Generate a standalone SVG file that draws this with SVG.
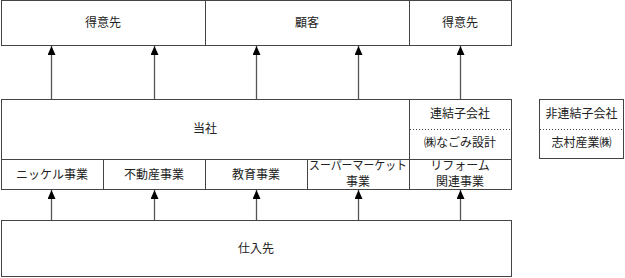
<svg xmlns="http://www.w3.org/2000/svg" width="625" height="278" viewBox="0 0 625 278">
<defs>
<style>
.n rect { fill: #fff; stroke: #444; stroke-width: 1; }
line.dot { stroke: #444; stroke-width: 1; stroke-dasharray: 1 2; }
text { font-family: "Liberation Serif", "Noto Sans CJK JP", serif; font-size: 12px; fill: #222; text-anchor: middle; dominant-baseline: central; }
.conn line { stroke: #555; stroke-width: 1.3; marker-end: url(#ah); }
</style>
<marker id="ah" viewBox="0 0 9 8" refX="9" refY="4" markerWidth="9" markerHeight="8" markerUnits="userSpaceOnUse" orient="auto">
<path d="M0,0 L9,4 L0,8 Z" fill="#000"/>
</marker>
</defs>
<rect width="625" height="278" fill="#fff"/>

<g class="n" id="tokuisaki1"><rect x="1.5" y="0.5" width="204" height="45"/><text x="103" y="23">得意先</text></g>
<g class="n" id="kokyaku"><rect x="205.5" y="0.5" width="204" height="45"/><text x="307" y="23">顧客</text></g>
<g class="n" id="tokuisaki2"><rect x="409.5" y="0.5" width="102" height="45"/><text x="460" y="23">得意先</text></g>

<g class="n" id="tousha"><rect x="1.5" y="99.5" width="408" height="60"/><text x="205" y="129">当社</text></g>
<g class="n" id="renketsu"><rect x="409.5" y="99.5" width="102" height="60"/><line class="dot" x1="410" y1="129.5" x2="511" y2="129.5"/><text x="460" y="114">連結子会社</text><text x="460" y="143">㈱なごみ設計</text></g>
<g class="n" id="hirenketsu"><rect x="539.5" y="99.5" width="84" height="59"/><line class="dot" x1="540" y1="129.5" x2="623" y2="129.5"/><text x="581.5" y="114">非連結子会社</text><text x="581.5" y="143">志村産業㈱</text></g>

<g class="n" id="nickel"><rect x="1.5" y="159.5" width="102" height="30"/><text x="52" y="175">ニッケル事業</text></g>
<g class="n" id="fudousan"><rect x="103.5" y="159.5" width="102" height="30"/><text x="154" y="175">不動産事業</text></g>
<g class="n" id="kyouiku"><rect x="205.5" y="159.5" width="102" height="30"/><text x="256" y="175">教育事業</text></g>
<g class="n" id="super"><rect x="307.5" y="159.5" width="102" height="30"/><text x="358" y="166" textLength="98" lengthAdjust="spacingAndGlyphs">スーパーマーケット</text><text x="358" y="182">事業</text></g>
<g class="n" id="reform"><rect x="409.5" y="159.5" width="102" height="30"/><text x="460" y="166">リフォーム</text><text x="460" y="182">関連事業</text></g>

<g class="n" id="shiiresaki"><rect x="1.5" y="220.5" width="510" height="56"/><text x="256" y="249">仕入先</text></g>

<g class="conn" id="connectors">
<line x1="51.5" y1="99" x2="51.5" y2="46"/>
<line x1="154.5" y1="99" x2="154.5" y2="46"/>
<line x1="256.5" y1="99" x2="256.5" y2="46"/>
<line x1="358.5" y1="99" x2="358.5" y2="46"/>
<line x1="460.5" y1="99" x2="460.5" y2="46"/>
<line x1="51.5" y1="220" x2="51.5" y2="190"/>
<line x1="154.5" y1="220" x2="154.5" y2="190"/>
<line x1="256.5" y1="220" x2="256.5" y2="190"/>
<line x1="358.5" y1="220" x2="358.5" y2="190"/>
<line x1="460.5" y1="220" x2="460.5" y2="190"/>
</g>
</svg>
